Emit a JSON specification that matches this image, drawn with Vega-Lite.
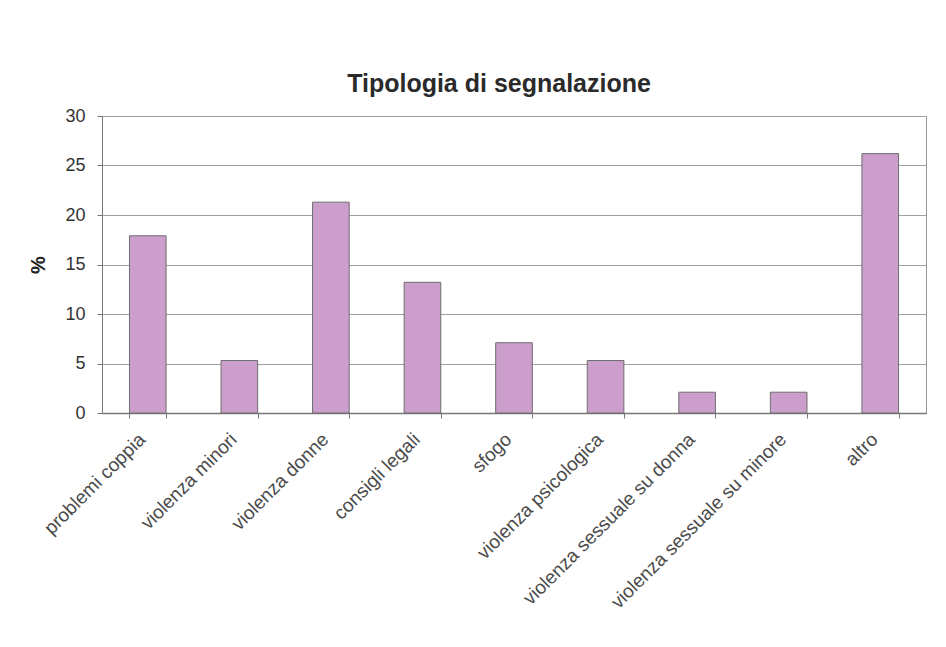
{
  "$schema": "https://vega.github.io/schema/vega-lite/v6.json",
  "autosize": {"type": "none"},
  "width": 824,
  "height": 297,
  "padding": {"left": 102, "top": 116, "right": 20, "bottom": 234},
  "background": "white",
  "title": {
    "text": "Tipologia di segnalazione",
    "font": "Liberation Sans",
    "fontSize": 25,
    "fontWeight": "bold",
    "color": "#2A2A2A",
    "anchor": "middle",
    "dx": -15,
    "offset": 10
  },
  "data": {
    "values": [
      {"categoria": "problemi coppia", "valore": 17.9},
      {"categoria": "violenza minori", "valore": 5.3},
      {"categoria": "violenza donne", "valore": 21.3},
      {"categoria": "consigli legali", "valore": 13.2},
      {"categoria": "sfogo", "valore": 7.1},
      {"categoria": "violenza psicologica", "valore": 5.3},
      {"categoria": "violenza sessuale su donna", "valore": 2.1},
      {"categoria": "violenza sessuale su minore", "valore": 2.1},
      {"categoria": "altro", "valore": 26.2}
    ]
  },
  "mark": {"type": "bar", "color": "#CC9ECC", "stroke": "#6E6E6E", "strokeWidth": 1},
  "encoding": {
    "x": {
      "field": "categoria",
      "type": "nominal",
      "sort": null,
      "scale": {"paddingInner": 0.6, "paddingOuter": 0.3},
      "axis": {
        "title": null,
        "labelAngle": -45,
        "labelAlign": "right",
        "labelBaseline": "middle",
        "labelFont": "Liberation Sans",
        "labelFontSize": 19,
        "labelColor": "#4A4A4A",
        "labelPadding": 18,
        "labelOffset": -6,
        "labelLimit": 400,
        "tickBand": "extent",
        "tickColor": "#777777",
        "tickSize": 5,
        "domainColor": "#777777",
        "domainWidth": 1.5,
        "grid": false
      }
    },
    "y": {
      "field": "valore",
      "type": "quantitative",
      "scale": {"domain": [0, 30]},
      "axis": {
        "title": "%",
        "titleFont": "Liberation Sans",
        "titleFontSize": 20,
        "titleFontWeight": "bold",
        "titleColor": "#222222",
        "titlePadding": 16,
        "values": [0, 5, 10, 15, 20, 25, 30],
        "labelFont": "Liberation Sans",
        "labelFontSize": 18,
        "labelColor": "#333333",
        "labelPadding": 12,
        "tickColor": "#777777",
        "tickSize": 5,
        "domainColor": "#777777",
        "gridColor": "#A0A0A0",
        "gridWidth": 1,
        "gridOpacity": 1
      }
    }
  },
  "config": {
    "view": {"stroke": "#999999", "strokeWidth": 1}
  }
}
